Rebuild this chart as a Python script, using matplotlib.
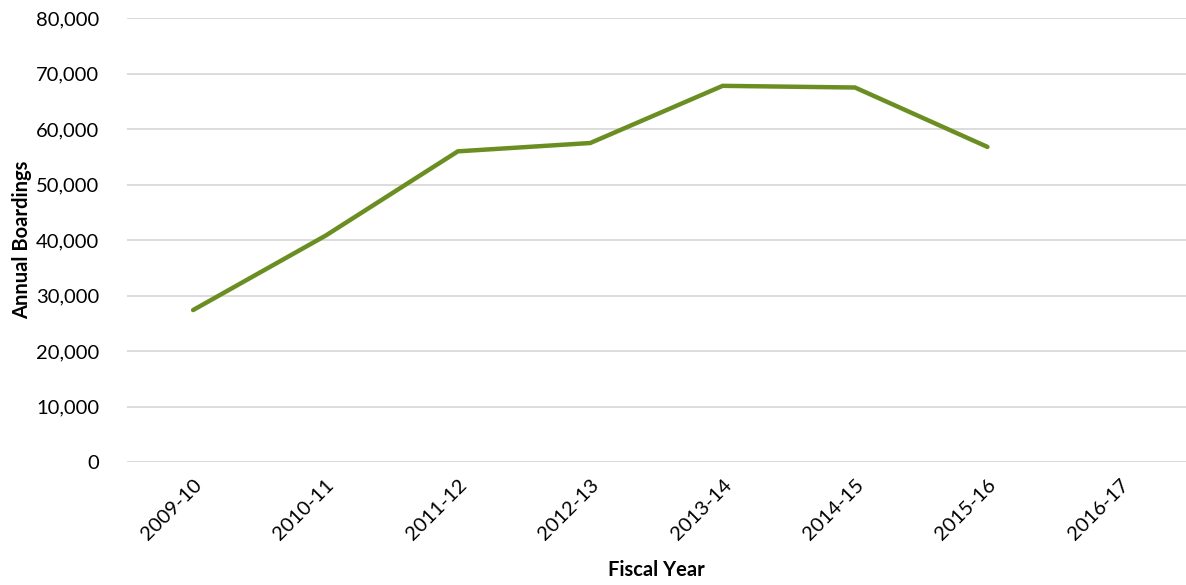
import matplotlib
matplotlib.use('Agg')
import matplotlib.pyplot as plt
from matplotlib.ticker import FuncFormatter

# data
years = ['2009-10', '2010-11', '2011-12', '2012-13', '2013-14', '2014-15',
         '2015-16', '2016-17']
boardings = [27400, 40800, 56000, 57500, 67800, 67500, 56800]

plt.rcParams['font.family'] = ['Lato', 'DejaVu Sans']

fig = plt.figure(figsize=(11.86, 5.85), dpi=100)
ax = fig.add_axes([0.107, 0.21, 0.893, 0.759])

ax.plot(range(len(boardings)), boardings, color='#6b8e23', lw=3.2,
        solid_capstyle='round', solid_joinstyle='miter', zorder=3)

ax.set_xlim(-0.5, len(years) - 0.5)
ax.set_ylim(0, 80000)
ax.set_yticks(range(0, 80001, 10000))
ax.yaxis.set_major_formatter(FuncFormatter(lambda v, p: f'{int(v):,}'))
ax.set_xticks(range(len(years)))
ax.set_xticklabels(years, rotation=45, ha='right', rotation_mode='anchor')

ax.grid(axis='y', color='#d9d9d9', lw=1.3)
ax.set_axisbelow(True)
for s in ax.spines.values():
    s.set_visible(False)
ax.tick_params(axis='both', length=0, labelsize=14.5, colors='black')
ax.tick_params(axis='y', pad=20)
ax.tick_params(axis='x', pad=10)

ax.set_ylabel('Annual Boardings', fontsize=14.5, fontweight='bold', labelpad=3)
ax.set_xlabel('Fiscal Year', fontsize=14.5, fontweight='bold', labelpad=12)

fig.savefig('out.png', dpi=100)
